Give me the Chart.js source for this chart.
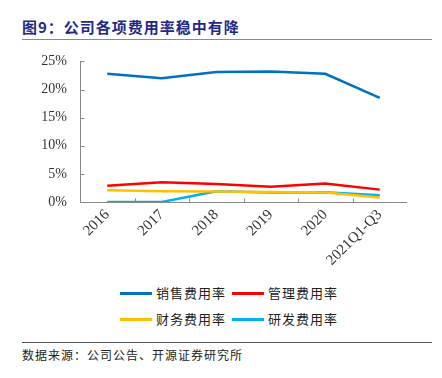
<!DOCTYPE html>
<html><head><meta charset="utf-8">
<script src="https://cdn.jsdelivr.net/npm/chart.js@4/dist/chart.umd.min.js"></script>
<style>
html,body{margin:0;padding:0;background:#fff;width:442px;height:378px;overflow:hidden;position:relative;font-family:"Noto Sans CJK SC",sans-serif;}
#title{position:absolute;left:22px;top:16px;font-size:15px;font-weight:bold;color:#1f2a86;font-family:"Noto Sans CJK SC";letter-spacing:1px;}
#hl1{position:absolute;left:22px;top:39px;width:410px;height:1px;background:#8a8a8a;z-index:2;}
#hl2{position:absolute;left:22px;top:342px;width:410px;height:1px;background:#555;}
#src{position:absolute;left:22px;top:346px;font-size:12px;color:#222;letter-spacing:1px;}
#cw{position:absolute;left:0;top:40px;width:442px;height:240px;}
#legend{position:absolute;left:120px;top:284px;width:250px;}
.li{position:absolute;font-size:13px;color:#222;white-space:nowrap;line-height:18px;letter-spacing:1px;}
.li span.sw{display:inline-block;width:32px;height:3px;vertical-align:middle;margin-right:4px;position:relative;top:-1px;}
</style></head>
<body>
<div id="title">图9：公司各项费用率稳中有降</div>
<div id="hl1"></div>
<div id="cw"><canvas id="c" width="442" height="240"></canvas></div>
<div id="legend"></div>
<div id="hl2"></div>
<div id="src">数据来源：公司公告、开源证券研究所</div>
<script>
const categories = ["2016","2017","2018","2019","2020","2021Q1-Q3"];
const salesRate = [22.8, 22.0, 23.1, 23.2, 22.8, 18.5];
const adminRate = [2.9, 3.5, 3.2, 2.7, 3.3, 2.2];
const financeRate = [2.1, 1.9, 1.85, 1.8, 1.7, 0.8];
const rdRate = [0, 0, 1.9, 1.7, 1.75, 1.2];
const seriesNames = ["销售费用率","管理费用率","财务费用率","研发费用率"];
const seriesColors = ["#0070c0","#ff0000","#ffc000","#00b0f0"];
const yTicks = [0,5,10,15,20,25];

const seriesData = [salesRate, adminRate, financeRate, rdRate];
const datasets = seriesData.map((d,i)=>({
  label: seriesNames[i], data: d, borderColor: seriesColors[i], backgroundColor: seriesColors[i],
  borderWidth: 2.5, pointRadius: 0, tension: 0, fill: false
}));

const innerTicks = {
  id:'innerTicks',
  afterDraw(chart){
    const ctx = chart.ctx, x = chart.scales.x, y = chart.scales.y;
    ctx.save();
    ctx.strokeStyle = '#888'; ctx.lineWidth = 1;
    ctx.beginPath();
    const left = Math.round(chart.chartArea.left)+0.5, bottom = Math.round(chart.chartArea.bottom)+0.5;
    ctx.moveTo(left, Math.round(y.getPixelForValue(25))); ctx.lineTo(left, bottom); ctx.lineTo(chart.chartArea.right, bottom);
    yTicks.forEach(v=>{ const py = Math.round(y.getPixelForValue(v))+0.5; ctx.moveTo(left, py); ctx.lineTo(left+4, py); });
    for (let i=0;i<categories.length-1;i++){
      const px = Math.round((x.getPixelForValue(i)+x.getPixelForValue(i+1))/2)+0.5;
      ctx.moveTo(px, bottom); ctx.lineTo(px, bottom-4);
    }
    ctx.stroke();
    ctx.restore();
  }
};

new Chart(document.getElementById('c'), {
  type:'line',
  data:{labels:categories, datasets},
  options:{
    responsive:false, animation:false,
    layout:{padding:{left:0,right:35,top:5,bottom:0}},
    plugins:{legend:{display:false}, tooltip:{enabled:false}},
    scales:{
      x:{offset:true,
        grid:{display:false, drawTicks:false},
        border:{display:false},
        ticks:{minRotation:45,maxRotation:45,color:'#333',font:{family:'"Liberation Serif"',size:15},padding:4},
        afterFit(s){ s.height = 78; }
      },
      y:{min:0,max:25,
        afterBuildTicks(s){ s.ticks = yTicks.map(v=>({value:v})); },
        grid:{display:false, drawTicks:false},
        border:{display:false},
        ticks:{color:'#333',font:{family:'"Liberation Serif"',size:14},padding:13,callback:v=>v+'%'},
        afterFit(s){ s.width = 80; }
      }
    }
  },
  plugins:[innerTicks]
});

const lg = document.getElementById('legend');
seriesNames.forEach((n,i)=>{
  const d = document.createElement('div'); d.className='li';
  d.style.left = (i%2===0?0:112)+'px'; d.style.top = (Math.floor(i/2)*26)+'px';
  d.innerHTML = '<span class="sw" style="background:'+seriesColors[i]+'"></span>'+n;
  lg.appendChild(d);
});
</script>
</body></html>
